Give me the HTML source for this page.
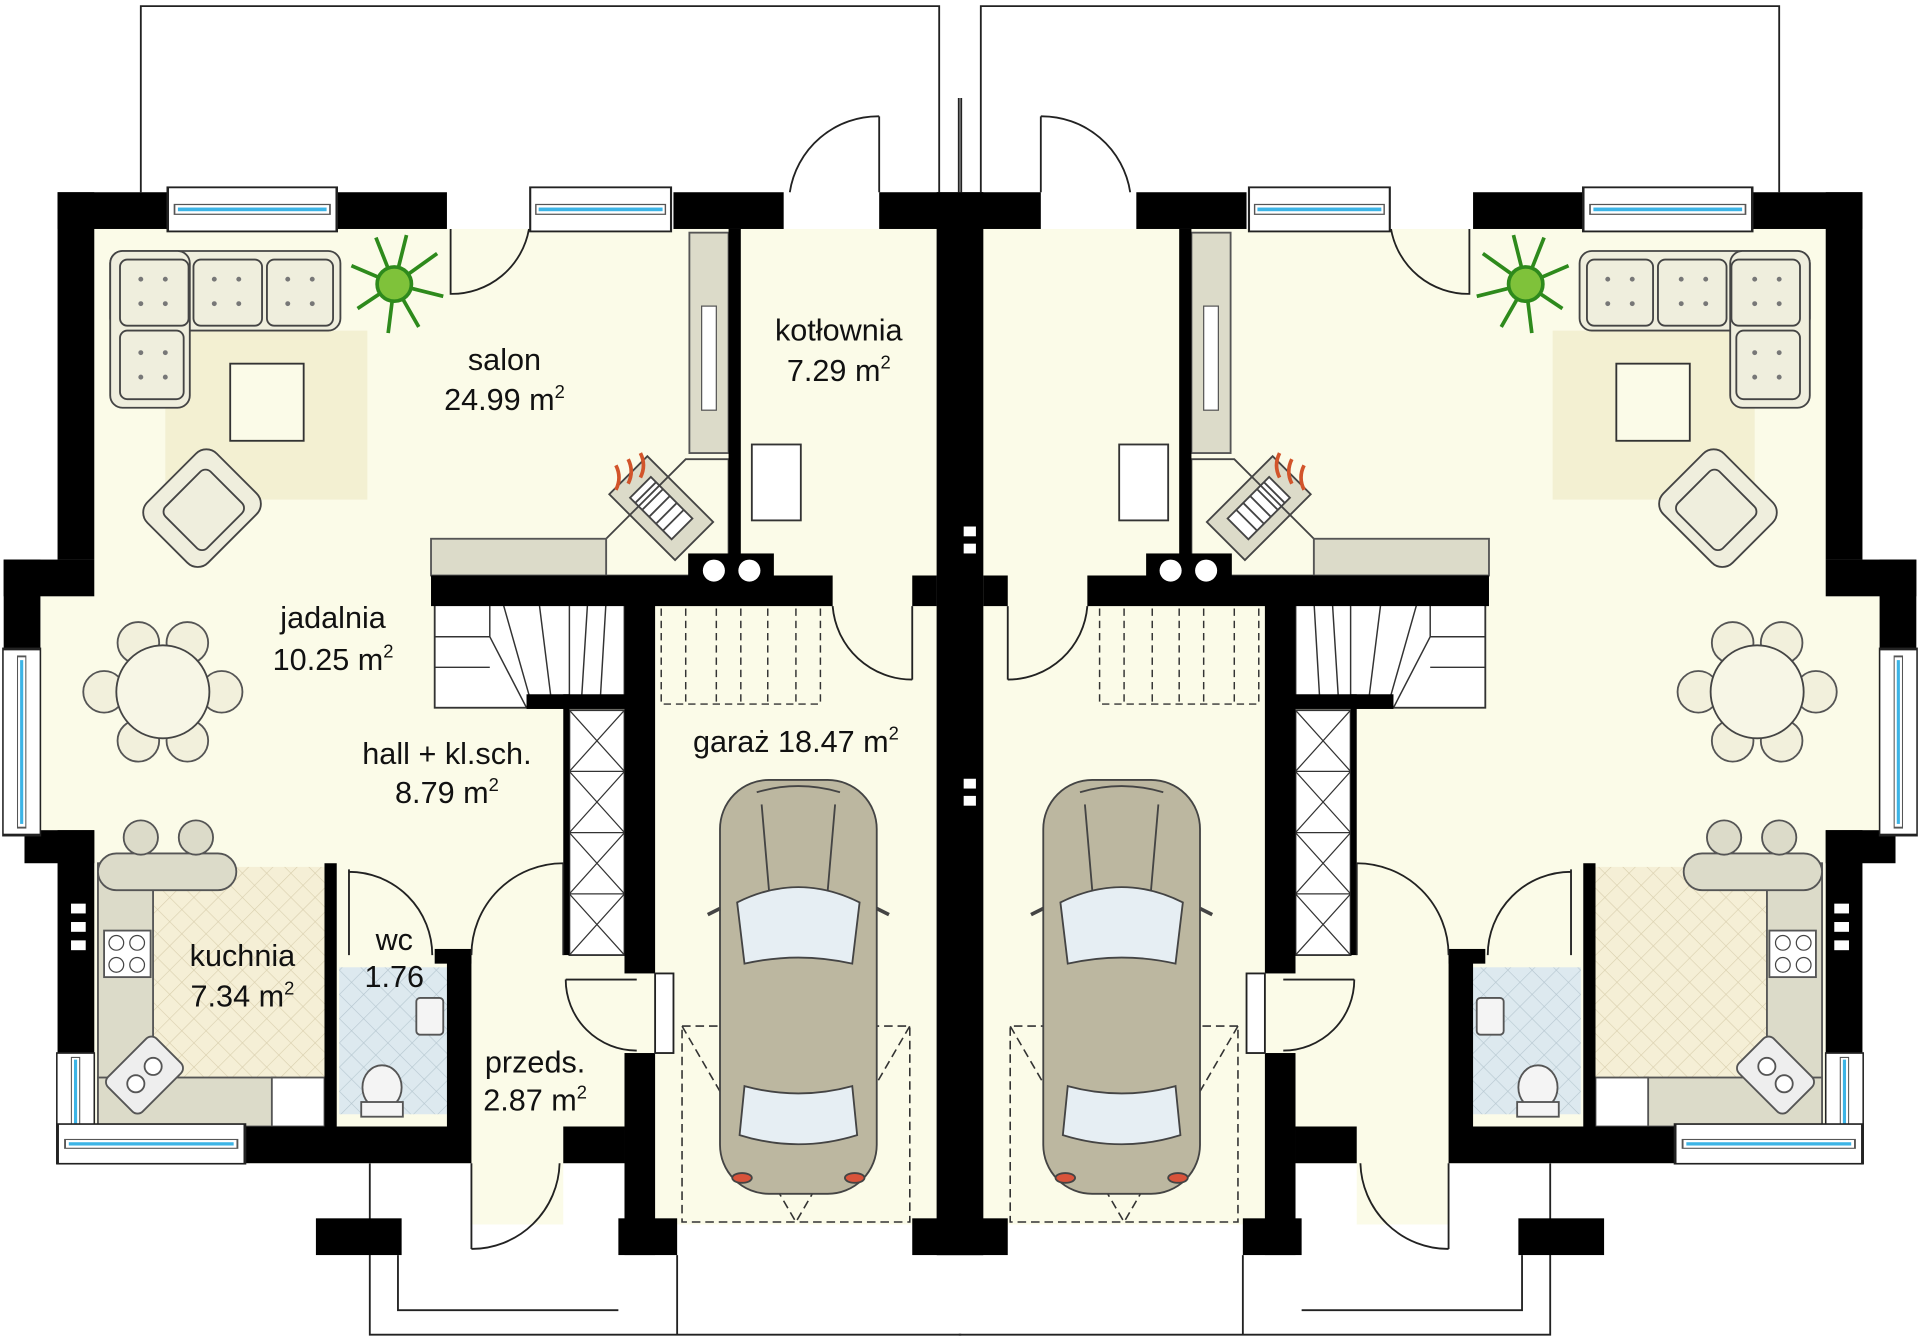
<!DOCTYPE html>
<html><head><meta charset="utf-8"><style>
html,body{margin:0;padding:0;background:#fff;width:1920px;height:1342px;overflow:hidden}
svg{display:block}
text{font-family:"Liberation Sans",Arial,sans-serif;font-size:25px;fill:#111;text-anchor:middle}
</style></head><body>
<svg width="1920" height="1342" viewBox="0 0 1568 1096" preserveAspectRatio="none" xmlns="http://www.w3.org/2000/svg">
<defs>
<pattern id="tile" width="14" height="14" patternUnits="userSpaceOnUse" patternTransform="rotate(45)">
<rect width="14" height="14" fill="#f5efd6"/><path d="M0,0H14M0,0V14" stroke="#d9cfae" stroke-width="1"/></pattern>
<pattern id="tileb" width="14" height="14" patternUnits="userSpaceOnUse" patternTransform="rotate(45)">
<rect width="14" height="14" fill="#dde9ef"/><path d="M0,0H14M0,0V14" stroke="#b5c6cf" stroke-width="1"/></pattern>
<g id="win"><rect x="0" y="0" width="100" height="36" fill="#fff" stroke="#222" stroke-width="1.5"/><rect x="4" y="14" width="92" height="8" fill="#fff" stroke="#555" stroke-width="1"/><rect x="6" y="16.5" width="88" height="3" fill="#3cb4e6"/></g>
<g id="chairR"><circle r="17" fill="#f2f0dc" stroke="#555" stroke-width="1.5"/></g>
<g id="half">
<!-- outside lines -->
<path d="M115,157V5H767V157M767,80V157M785,80V157" fill="none" stroke="#222" stroke-width="1.5"/>
<path d="M302,950V1090H785M325,1025V1070H505M553,1025V1090" fill="none" stroke="#222" stroke-width="1.5"/>
<!-- interior -->
<polygon points="77,187 765,187 765,1000 535,1000 535,950 77,950 77,690 33,690 33,487 77,487" fill="#fbfbe8"/>
<rect x="385" y="940" width="75" height="60" fill="#fbfbe8"/>
<!-- rug & salon -->
<rect x="135" y="270" width="165" height="138" fill="#f3f0d2"/>
<rect x="188" y="297" width="60" height="63" fill="#fbfbe8" stroke="#333" stroke-width="1.5"/>
<g fill="#efeedd" stroke="#444" stroke-width="1.5">
<rect x="90" y="205" width="188" height="65" rx="10"/>
<rect x="90" y="205" width="65" height="128" rx="10"/>
<rect x="98" y="212" width="56" height="54" rx="6"/><rect x="158" y="212" width="56" height="54" rx="6"/><rect x="218" y="212" width="54" height="54" rx="6"/>
<rect x="98" y="270" width="52" height="56" rx="6"/>
<g transform="translate(165,415) rotate(-45)"><rect x="-40" y="-35" width="80" height="70" rx="12"/><rect x="-26" y="-22" width="52" height="48" rx="6"/></g>
</g>
<g fill="#777"><circle cx="115" cy="228" r="2"/><circle cx="135" cy="228" r="2"/><circle cx="115" cy="248" r="2"/><circle cx="135" cy="248" r="2"/><circle cx="175" cy="228" r="2"/><circle cx="195" cy="228" r="2"/><circle cx="175" cy="248" r="2"/><circle cx="195" cy="248" r="2"/><circle cx="235" cy="228" r="2"/><circle cx="255" cy="228" r="2"/><circle cx="235" cy="248" r="2"/><circle cx="255" cy="248" r="2"/><circle cx="115" cy="288" r="2"/><circle cx="135" cy="288" r="2"/><circle cx="115" cy="308" r="2"/><circle cx="135" cy="308" r="2"/></g>
<!-- plant -->
<g transform="translate(322,232)" stroke="#2e8a1c" stroke-width="3" fill="#7fc23a">
<path d="M0,0L-35,-15M0,0L-30,20M0,0L-5,40M0,0L20,35M0,0L40,10M0,0L35,-25M0,0L10,-40M0,0L-15,-38" />
<circle r="14"/></g>
<!-- dining -->
<g transform="translate(133,565)">
<use href="#chairR" x="-48" y="0"/><use href="#chairR" x="48" y="0"/><use href="#chairR" x="-20" y="-40"/><use href="#chairR" x="20" y="-40"/><use href="#chairR" x="-20" y="40"/><use href="#chairR" x="20" y="40"/>
<circle r="38" fill="#f7f6e6" stroke="#444" stroke-width="1.5"/></g>
<!-- kitchen -->
<rect x="125" y="708" width="143" height="172" fill="url(#tile)"/>
<g fill="#dcdbc9" stroke="#555" stroke-width="1.5">
<rect x="80" y="705" width="45" height="215"/><rect x="80" y="880" width="145" height="40"/>
<rect x="80" y="697" width="113" height="30" rx="15"/>
<circle cx="115" cy="684" r="14"/><circle cx="160" cy="684" r="14"/>
<rect x="85" y="760" width="38" height="38" fill="#fff"/>
<g transform="translate(118,878) rotate(-45)"><rect x="-28" y="-20" width="56" height="40" rx="6" fill="#eee"/><circle cx="-10" cy="0" r="7" fill="#fff"/><circle cx="10" cy="0" r="7" fill="#fff"/></g>
<rect x="222" y="880" width="43" height="40" fill="#fff"/>
</g>
<g fill="none" stroke="#444"><circle cx="95" cy="770" r="6"/><circle cx="112" cy="770" r="6"/><circle cx="95" cy="788" r="6"/><circle cx="112" cy="788" r="6"/></g>
<!-- wc -->
<rect x="277" y="790" width="88" height="120" fill="url(#tileb)"/>
<g fill="#f4f4f4" stroke="#555" stroke-width="1.5"><rect x="340" y="815" width="22" height="30" rx="3"/><ellipse cx="312" cy="888" rx="16" ry="18"/><rect x="295" y="900" width="34" height="12"/></g>
<!-- kotlownia cabinet, boiler -->
<rect x="563" y="190" width="32" height="180" fill="#dcdbc9" stroke="#555" stroke-width="1.5"/>
<rect x="573" y="250" width="12" height="85" fill="#fff" stroke="#555"/>
<rect x="614" y="363" width="40" height="62" fill="#fff" stroke="#333" stroke-width="1.5"/>
<!-- fireplace -->
<g transform="translate(540,415) rotate(45)" stroke="#444" stroke-width="1.5"><rect x="-38" y="-22" width="76" height="44" fill="#dcdbc9"/><rect x="-24" y="-12" width="48" height="24" fill="#fff"/><path d="M-18,-12V12M-10,-12V12M-2,-12V12M6,-12V12M14,-12V12" /></g>
<path d="M503,400q5,-10 0,-20M513,395q5,-10 0,-20M523,390q5,-10 0,-20" stroke="#d2542a" stroke-width="3" fill="none"/>
<polygon points="495,440 560,375 595,375 595,470 495,470" fill="none" stroke="#444" stroke-width="1.5"/>
<rect x="352" y="440" width="143" height="30" fill="#dcdbc9" stroke="#555" stroke-width="1.5"/>
<!-- stairs -->
<rect x="355" y="490" width="155" height="88" fill="#fff" stroke="#333" stroke-width="1.5"/>
<path d="M355,520H400M355,545H400M410,490L435,578M440,490L450,570M465,490V570M480,490L475,570M495,490L490,575M400,490V520L430,578" stroke="#333" fill="none" stroke-width="1.2"/>
<path d="M540,497V575H670V497M560,497V575M585,497V575M605,497V575M627,497V575M650,497V575" stroke="#333" fill="none" stroke-dasharray="6,4" stroke-width="1.2"/>
<!-- closet -->
<rect x="465" y="580" width="45" height="200" fill="#fff" stroke="#333" stroke-width="1.5"/>
<path d="M465,580L510,630L465,680L510,730L465,780M510,580L465,630L510,680L465,730L510,780M465,630H510M465,680H510M465,730H510" stroke="#333" fill="none" stroke-width="1"/>
<!-- garage -->
<rect x="557" y="838" width="186" height="160" fill="none" stroke="#333" stroke-dasharray="7,4" stroke-width="1.3"/>
<path d="M557,838L650,998L743,838" fill="none" stroke="#333" stroke-dasharray="7,4" stroke-width="1.3"/>
<g transform="translate(588,637)" stroke="#444" stroke-width="1.5">
<rect x="0" y="0" width="128" height="338" rx="40" fill="#bcb7a0"/>
<path d="M14,100Q64,75 114,100L108,150Q64,140 20,150Z" fill="#e6eef3"/>
<path d="M20,250Q64,262 108,250L112,290Q64,305 16,290Z" fill="#e6eef3"/>
<path d="M30,10Q64,0 98,10M34,20L40,90M94,20L88,90" fill="none"/>
<path d="M-10,110L0,105M128,105L138,110" fill="none" stroke-width="3"/>
<ellipse cx="18" cy="325" rx="8" ry="4" fill="#d9533a"/><ellipse cx="110" cy="325" rx="8" ry="4" fill="#d9533a"/>
</g>
<!-- walls -->
<g fill="#000">
<rect x="47" y="157" width="90" height="30"/><rect x="275" y="157" width="90" height="30"/>
<rect x="550" y="157" width="90" height="30"/><rect x="718" y="157" width="49" height="30"/>
<rect x="765" y="157" width="38" height="868"/>
<rect x="47" y="157" width="30" height="300"/><rect x="3" y="457" width="74" height="30"/><rect x="3" y="457" width="30" height="73"/>
<rect x="20" y="678" width="57" height="27"/><rect x="47" y="678" width="30" height="182"/>
<rect x="200" y="920" width="185" height="30"/><rect x="460" y="920" width="50" height="30"/>
<rect x="510" y="860" width="25" height="165"/><rect x="505" y="995" width="48" height="30"/>
<rect x="745" y="995" width="58" height="30"/><rect x="258" y="995" width="70" height="30"/>
<rect x="595" y="187" width="10" height="283"/>
<rect x="352" y="470" width="328" height="25"/><rect x="562" y="452" width="70" height="40"/>
<rect x="745" y="470" width="20" height="25"/>
<rect x="510" y="470" width="25" height="325"/>
<rect x="430" y="567" width="85" height="12"/><rect x="460" y="567" width="5" height="213"/>
<rect x="265" y="705" width="10" height="215"/>
<rect x="365" y="780" width="20" height="140"/><rect x="355" y="775" width="30" height="12"/>
</g>
<g fill="#fff"><circle cx="583" cy="466" r="9"/><circle cx="612" cy="466" r="9"/>
<rect x="58" y="738" width="12" height="8"/><rect x="58" y="753" width="12" height="8"/><rect x="58" y="768" width="12" height="8"/>
<rect x="771" y="430" width="10" height="8"/><rect x="771" y="444" width="10" height="8"/><rect x="771" y="636" width="10" height="8"/><rect x="771" y="650" width="10" height="8"/></g>
<!-- windows -->
<use href="#win" transform="translate(137,153) scale(1.38,1)"/>
<use href="#win" transform="translate(433,153) scale(1.15,1)"/>
<use href="#win" transform="translate(33,530) rotate(90) scale(1.52,0.85)"/>
<use href="#win" transform="translate(77,860) rotate(90) scale(0.9,0.85)"/>
<use href="#win" transform="translate(47,918) scale(1.53,0.9)"/>
<!-- doors -->
<g fill="none" stroke="#222" stroke-width="1.5">
<path d="M368,187V240A64,64 0 0 0 432,187"/>
<path d="M718,157V95M645,157A73,73 0 0 1 718,95" transform="translate(0,0)"/>
<path d="M745,495V555M680,495A65,65 0 0 0 745,555"/>
<path d="M460,705V780M385,780A75,75 0 0 1 460,705"/>
<path d="M385,950V1020M385,1020A72,72 0 0 0 457,950"/>
<path d="M285,710V780M285,712A68,68 0 0 1 353,780"/>
<rect x="535" y="795" width="15" height="65" fill="#fff"/>
<path d="M462,800H520M462,800A58,58 0 0 0 520,858"/>
</g>
</g>
</defs>
<use href="#half"/>
<use href="#half" transform="translate(1568,0) scale(-1,1)"/>
<text x="412" y="302">salon</text><text x="412" y="335">24.99 m<tspan font-size="15" dy="-10">2</tspan></text>
<text x="685" y="278">kotłownia</text><text x="685" y="311">7.29 m<tspan font-size="15" dy="-10">2</tspan></text>
<text x="272" y="513">jadalnia</text><text x="272" y="547">10.25 m<tspan font-size="15" dy="-10">2</tspan></text>
<text x="365" y="624">hall + kl.sch.</text><text x="365" y="656">8.79 m<tspan font-size="15" dy="-10">2</tspan></text>
<text x="650" y="614">garaż 18.47 m<tspan font-size="15" dy="-10">2</tspan></text>
<text x="198" y="789">kuchnia</text><text x="198" y="822">7.34 m<tspan font-size="15" dy="-10">2</tspan></text>
<text x="322" y="776">wc</text><text x="322" y="806">1.76</text>
<text x="437" y="876">przeds.</text><text x="437" y="907">2.87 m<tspan font-size="15" dy="-10">2</tspan></text>
</svg>
</body></html>
